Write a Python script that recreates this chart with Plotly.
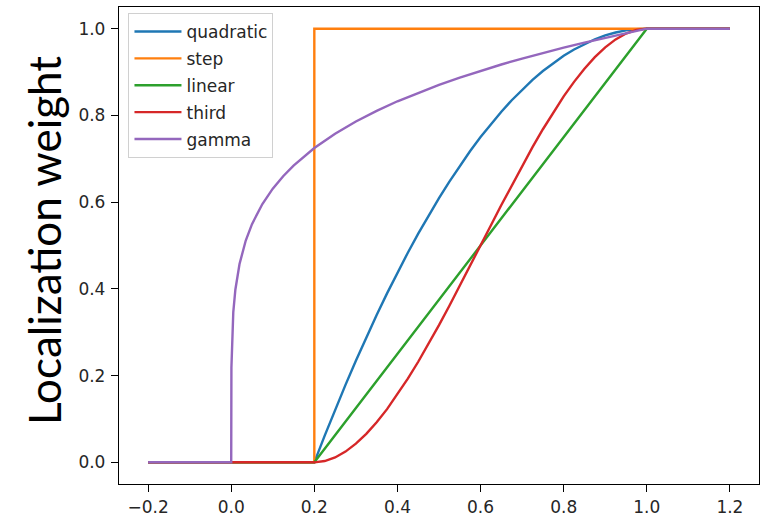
import plotly.graph_objects as go

# ---- data ----
x_curve = [-0.2, 0.2, 0.225, 0.25, 0.275, 0.3, 0.325, 0.35, 0.375, 0.4, 0.425, 0.45, 0.475,
           0.5, 0.525, 0.55, 0.575, 0.6, 0.625, 0.65, 0.675, 0.7, 0.725, 0.75, 0.775,
           0.8, 0.825, 0.85, 0.875, 0.9, 0.925, 0.95, 0.975, 1.0, 1.2]

quadratic = [0.0, 0.0, 0.0615, 0.1211, 0.1787, 0.2344, 0.2881, 0.3398, 0.3896, 0.4375, 0.4834,
             0.5273, 0.5693, 0.6094, 0.6475, 0.6836, 0.7178, 0.75, 0.7803, 0.8086, 0.8350,
             0.8594, 0.8818, 0.9023, 0.9209, 0.9375, 0.9521, 0.9648, 0.9756, 0.9844, 0.9912,
             0.9961, 0.9990, 1.0, 1.0]

third = [0.0, 0.0, 0.0029, 0.0112, 0.0247, 0.0430, 0.0656, 0.0923, 0.1226, 0.1563, 0.1928,
         0.2319, 0.2733, 0.3164, 0.3610, 0.4067, 0.4532, 0.5, 0.5468, 0.5933, 0.6390,
         0.6836, 0.7268, 0.7681, 0.8072, 0.8438, 0.8774, 0.9077, 0.9344, 0.9570, 0.9753,
         0.9888, 0.9971, 1.0, 1.0]

x_linear = [-0.2, 0.2, 1.0, 1.2]
linear = [0.0, 0.0, 1.0, 1.0]

x_step = [-0.2, 0.2, 0.2, 1.2]
step = [0.0, 0.0, 1.0, 1.0]

x_gamma = [-0.2, 0.0, 0.0005, 0.002, 0.005, 0.01, 0.02, 0.035, 0.05, 0.075, 0.1, 0.125, 0.15,
           0.2, 0.25, 0.3, 0.35, 0.4, 0.45, 0.5, 0.55, 0.6, 0.65, 0.7, 0.75, 0.8, 0.85,
           0.9, 0.95, 1.0, 1.2]
gamma = [0.0, 0.0, 0.2187, 0.2885, 0.3466, 0.3981, 0.4573, 0.5115, 0.5493, 0.5957, 0.6310,
         0.6598, 0.6843, 0.7248, 0.7579, 0.7860, 0.8106, 0.8326, 0.8524, 0.8706, 0.8873,
         0.9029, 0.9174, 0.9311, 0.9441, 0.9564, 0.9680, 0.9791, 0.9898, 1.0, 1.0]

x_ticks = [-0.2, 0.0, 0.2, 0.4, 0.6, 0.8, 1.0, 1.2]
x_ticklabels = ["\u22120.2", "0.0", "0.2", "0.4", "0.6", "0.8", "1.0", "1.2"]
y_ticks = [0.0, 0.2, 0.4, 0.6, 0.8, 1.0]
y_ticklabels = ["0.0", "0.2", "0.4", "0.6", "0.8", "1.0"]

series = [
    ("quadratic", x_curve, quadratic, "#1f77b4"),
    ("step", x_step, step, "#ff7f0e"),
    ("linear", x_linear, linear, "#2ca02c"),
    ("third", x_curve, third, "#d62728"),
    ("gamma", x_gamma, gamma, "#9467bd"),
]

fig = go.Figure()
for name, xs, ys, col in series:
    fig.add_trace(go.Scatter(x=xs, y=ys, mode="lines", name=name, legendgroup=name,
                             line=dict(color=col, width=2.4)))

tick_font = dict(family="DejaVu Sans", size=17, color="#262626")
axis_common = dict(showgrid=False, zeroline=False, showline=True, linecolor="black",
                   linewidth=1.3, mirror=True, ticks="outside", ticklen=7, tickwidth=1.3,
                   tickcolor="black", tickfont=tick_font, automargin=False)

fig.update_layout(
    width=770, height=516,
    margin=dict(l=119, r=11, t=7, b=32),
    paper_bgcolor="white", plot_bgcolor="white",
    showlegend=True,
    legend=dict(x=0.0148, y=(484 - 13) / 477, xanchor="left", yanchor="top",
                bgcolor="rgba(255,255,255,0.8)", bordercolor="#d0d0d0", borderwidth=1,
                font=dict(family="DejaVu Sans", size=17, color="#262626"),
                tracegroupgap=1.75, traceorder="grouped", itemwidth=47),
    xaxis=dict(range=[-0.27, 1.27], tickvals=x_ticks, ticktext=x_ticklabels, **axis_common),
    yaxis=dict(range=[-0.05, 1.05], tickvals=y_ticks, ticktext=y_ticklabels,
               ticklabelstandoff=2, **axis_common),
    annotations=[dict(text="Localization weight", textangle=-90, xref="paper", yref="paper",
                      x=(44 - 119) / 640, y=(484 - 241) / 477, xanchor="center", yanchor="middle",
                      showarrow=False, font=dict(family="Lato", size=44, color="black"))],
)

fig.write_html("out.html")
